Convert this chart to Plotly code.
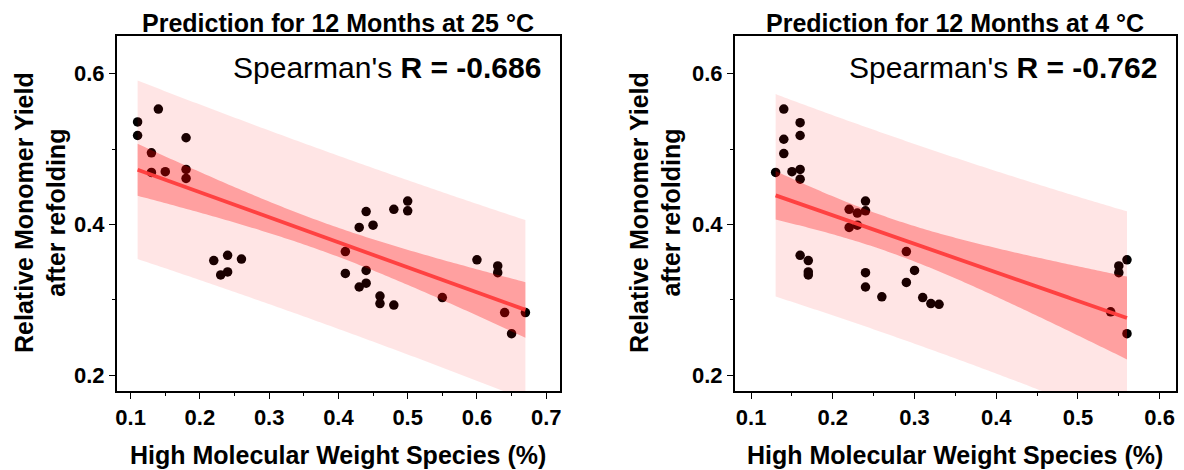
import numpy as np
import plotly.graph_objects as go

# ---------------- data ----------------
hmw_25 = [0.11, 0.11, 0.14, 0.18, 0.13, 0.13, 0.15, 0.18, 0.18,
          0.22, 0.24, 0.26, 0.23, 0.24,
          0.41, 0.41, 0.43, 0.44, 0.45, 0.44, 0.43, 0.44, 0.46, 0.46, 0.48, 0.50, 0.50, 0.48,
          0.55, 0.60, 0.63, 0.63, 0.64, 0.65, 0.67]
yield_25 = [0.536, 0.518, 0.553, 0.515, 0.495, 0.469, 0.470, 0.473, 0.461,
            0.352, 0.359, 0.354, 0.333, 0.337,
            0.364, 0.335, 0.396, 0.417, 0.399, 0.339, 0.317, 0.322, 0.305, 0.295, 0.420, 0.431, 0.418, 0.293,
            0.303, 0.353, 0.345, 0.336, 0.283, 0.255, 0.283]

hmw_4 = [0.14, 0.16, 0.16, 0.14, 0.14, 0.13, 0.15, 0.16, 0.16,
         0.22, 0.23, 0.24, 0.24, 0.22, 0.23,
         0.16, 0.17, 0.17, 0.17,
         0.24, 0.24, 0.26,
         0.29, 0.30, 0.29, 0.31, 0.32, 0.33,
         0.56, 0.55, 0.55, 0.54, 0.56]
yield_4 = [0.553, 0.535, 0.518, 0.513, 0.494, 0.469, 0.470, 0.473, 0.460,
           0.420, 0.415, 0.431, 0.418, 0.396, 0.399,
           0.359, 0.352, 0.337, 0.333,
           0.336, 0.317, 0.304,
           0.364, 0.339, 0.323, 0.303, 0.295, 0.294,
           0.353, 0.345, 0.336, 0.284, 0.255]

titles = ["Prediction for 12 Months at 25 °C", "Prediction for 12 Months at 4 °C"]
spearman = ["-0.686", "-0.762"]
x_title = "High Molecular Weight Species (%)"
y_title = "Relative Monomer Yield<br>after refolding"

FONT = "Liberation Sans, Arial, sans-serif"


def t975(df):
    z = 1.959964
    return z + (z**3 + z) / (4 * df) + (5 * z**5 + 16 * z**3 + 3 * z) / (96 * df**2)


def ols_bands(x, y, npts=120):
    x = np.asarray(x, float)
    y = np.asarray(y, float)
    n = len(x)
    b, a = np.polyfit(x, y, 1)
    resid = y - (a + b * x)
    s = np.sqrt(np.sum(resid**2) / (n - 2))
    xm = x.mean()
    sxx = np.sum((x - xm) ** 2)
    t = t975(n - 2)
    xs = np.linspace(x.min(), x.max(), npts)
    fit = a + b * xs
    se_m = s * np.sqrt(1 / n + (xs - xm) ** 2 / sxx)
    se_p = s * np.sqrt(1 + 1 / n + (xs - xm) ** 2 / sxx)
    return xs, fit, fit - t * se_m, fit + t * se_m, fit - t * se_p, fit + t * se_p


fig = go.Figure()

panels = [(hmw_25, yield_25, "x", "y"), (hmw_4, yield_4, "x2", "y2")]
for (xv, yv, xa, ya) in panels:
    fig.add_trace(go.Scatter(x=xv, y=yv, mode="markers", xaxis=xa, yaxis=ya,
                             marker=dict(color="black", size=9.5, line=dict(width=0))))
    xs, fit, clo, chi, plo, phi = ols_bands(xv, yv)
    # prediction band
    fig.add_trace(go.Scatter(x=np.concatenate([xs, xs[::-1]]), y=np.concatenate([phi, plo[::-1]]),
                             fill="toself", fillcolor="rgba(255,0,0,0.10)", mode="none",
                             xaxis=xa, yaxis=ya, hoverinfo="skip"))
    # confidence band
    fig.add_trace(go.Scatter(x=np.concatenate([xs, xs[::-1]]), y=np.concatenate([chi, clo[::-1]]),
                             fill="toself", fillcolor="rgba(255,0,0,0.30)", mode="none",
                             xaxis=xa, yaxis=ya, hoverinfo="skip"))
    fig.add_trace(go.Scatter(x=xs, y=fit, mode="lines", line=dict(color="rgba(255,60,60,0.95)", width=3.8),
                             xaxis=xa, yaxis=ya, hoverinfo="skip"))

axis_common = dict(showline=True, linecolor="black", linewidth=1.6, mirror=True,
                   ticks="outside", ticklen=6, tickwidth=1.3, tickcolor="black",
                   showgrid=False, zeroline=False,
                   tickfont=dict(family=FONT, size=22, color="black", weight="bold"),
                   tickformat=".1f")

fig.update_layout(
    width=1184, height=470, margin=dict(l=0, r=0, t=0, b=0),
    paper_bgcolor="white", plot_bgcolor="white", showlegend=False,
    xaxis=dict(domain=[116 / 1184, 560 / 1184], range=[0.08, 0.72], dtick=0.1, tick0=0,
               minor=dict(dtick=0.05, ticks="outside", ticklen=3, tickcolor="black", showgrid=False),
               anchor="y", **axis_common),
    yaxis=dict(domain=[1 - 391 / 470, 1 - 36 / 470], range=[0.179, 0.65], dtick=0.2, tick0=0,
               minor=dict(dtick=0.1, ticks="outside", ticklen=3, tickcolor="black", showgrid=False),
               anchor="x", **axis_common),
    xaxis2=dict(domain=[735 / 1184, 1177 / 1184], range=[0.08, 0.62], dtick=0.1, tick0=0,
                minor=dict(dtick=0.05, ticks="outside", ticklen=3, tickcolor="black", showgrid=False),
                anchor="y2", **axis_common),
    yaxis2=dict(domain=[1 - 391 / 470, 1 - 36 / 470], range=[0.179, 0.65], dtick=0.2, tick0=0,
                minor=dict(dtick=0.1, ticks="outside", ticklen=3, tickcolor="black", showgrid=False),
                anchor="x2", **axis_common),
)

ann = []
centers = [(116 + 560) / 2 / 1184, (735 + 1177) / 2 / 1184]
for i in range(2):
    ann.append(dict(text=titles[i], x=centers[i], y=1 - 23 / 470, xref="paper", yref="paper",
                    xanchor="center", yanchor="middle", showarrow=False,
                    font=dict(family=FONT, size=25, color="black", weight="bold")))
    ann.append(dict(text=x_title, x=centers[i], y=1 - 455 / 470, xref="paper", yref="paper",
                    xanchor="center", yanchor="middle", showarrow=False,
                    font=dict(family=FONT, size=25, color="black", weight="bold")))
ann.append(dict(text="Spearman's <b>R = " + spearman[0] + "</b>", x=543 / 1184, y=1 - 67 / 470,
                xref="paper", yref="paper", xanchor="right", yanchor="middle", showarrow=False,
                font=dict(family=FONT, size=30, color="black")))
ann.append(dict(text="Spearman's <b>R = " + spearman[1] + "</b>", x=1160 / 1184, y=1 - 67 / 470,
                xref="paper", yref="paper", xanchor="right", yanchor="middle", showarrow=False,
                font=dict(family=FONT, size=30, color="black")))
for xc in [39 / 1184, 655 / 1184]:
    ann.append(dict(text=y_title, x=xc, y=1 - 212 / 470, xref="paper", yref="paper",
                    xanchor="center", yanchor="middle", showarrow=False, textangle=-90,
                    font=dict(family=FONT, size=25, color="black", weight="bold")))
fig.update_layout(annotations=ann)

fig.write_html("out.html")
